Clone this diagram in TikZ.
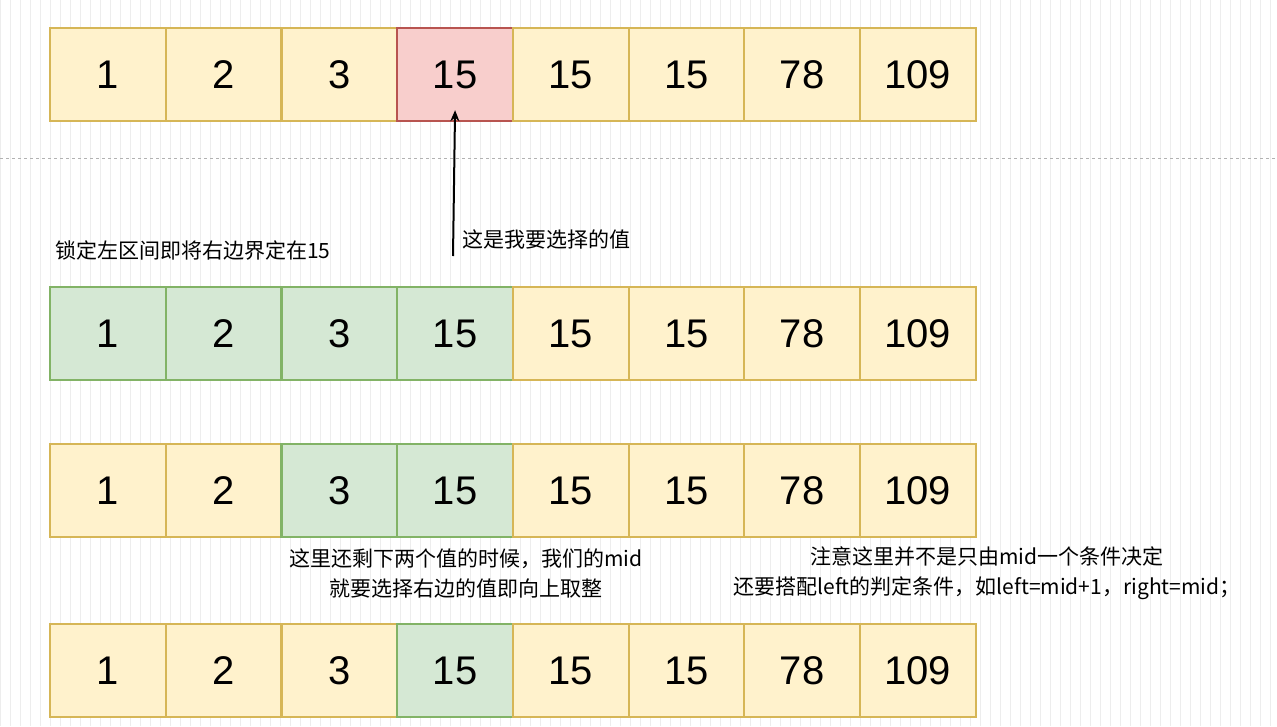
\documentclass[tikz,border=0pt]{standalone}
\usepackage{fontspec}
\usetikzlibrary{arrows.meta}
\setmainfont{Liberation Sans}
\newfontfamily\cjk{Noto Sans CJK SC}
\definecolor{yf}{HTML}{FFF2CC}\definecolor{yd}{HTML}{D6B656}
\definecolor{gf}{HTML}{D5E8D4}\definecolor{gd}{HTML}{82B366}
\definecolor{rf}{HTML}{F8CECC}\definecolor{rd}{HTML}{B85450}
\definecolor{gridc}{HTML}{EDEDED}
\begin{document}
\begin{tikzpicture}[x=1pt,y=-1pt,
  cell/.style={draw=yd,fill=yf,line width=2.2pt,minimum width=115.7pt,minimum height=93pt,inner sep=0pt,font=\fontsize{40}{40}\selectfont,anchor=north west},
  gc/.style={cell,draw=gd,fill=gf},
  rc/.style={cell,draw=rd,fill=rf},
  lbl/.style={font=\cjk\fontsize{21}{30}\selectfont,inner sep=0pt}]
\useasboundingbox (0,0) rectangle (1277,726);
\fill[white] (0,0) rectangle (1277,726);
\draw[gridc,line width=0.6pt,step=10] (0,0) grid (1277,726);
\draw[gray!60,dashed,line width=0.8pt] (0,158) -- (1277,158);
\def\vals{1,2,3,15,15,15,78,109}
\foreach \r/\y in {1/27,2/286,3/443,4/623}{
  \foreach \v [count=\i] in \vals{
    \pgfmathsetmacro\xx{49+(\i-1)*115.7}
    \def\st{cell}
    \ifnum\r=1 \ifnum\i=4 \def\st{rc}\fi\fi
    \ifnum\r=2 \ifnum\i<5 \def\st{gc}\fi\fi
    \ifnum\r=3 \ifnum\i>2 \ifnum\i<5 \def\st{gc}\fi\fi\fi
    \ifnum\r=4 \ifnum\i=4 \def\st{gc}\fi\fi
    \node[\st] (r\r c\i) at (\xx,\y) {\v};
  }
}
\coordinate (tail) at (453,256);
\draw[-{Stealth[length=11pt,width=9pt]},line width=2pt] (tail) -- ([yshift=12pt]r1c4.south);
\node[lbl,anchor=west] (l1) at (462,239) {这是我要选择的值};
\node[lbl,anchor=west] (l2) at (55,251) {锁定左区间即将右边界定在15};
\node[lbl,align=center] (l3) at (466,573) {这里还剩下两个值的时候，我们的mid\\就要选择右边的值即向上取整};
\node[lbl,align=center] (l4) at (987,573) {注意这里并不是只由mid一个条件决定\\还要搭配left的判定条件，如left=mid+1，right=mid；};
\end{tikzpicture}
\end{document}
